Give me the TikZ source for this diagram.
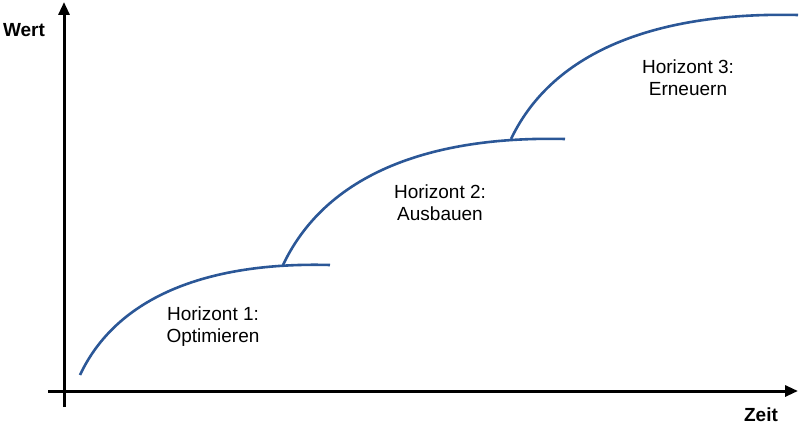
\documentclass[tikz,border=0pt]{standalone}
\usepackage{fontspec}
\setmainfont{Liberation Sans}
\usepackage{tikz}
\usetikzlibrary{arrows.meta}
\definecolor{wave}{HTML}{2B5797}

\begin{document}
\begin{tikzpicture}[x=1pt,y=-1pt,
    axis/.style={line width=3pt,-{Triangle[length=13pt,width=11pt]}},
    horizon/.style={wave,line width=2.6pt},
    label/.style={align=center,font=\fontsize{19}{22}\selectfont}]
        \useasboundingbox (0,0) rectangle (800,427);

        \path
        % axes
        (64,407) coordinate(O1)
        (64,2) coordinate(Ytip)
        (48,391) coordinate(O2)
        (798,391) coordinate(Xtip)
        (24,30) node[font=\bfseries\fontsize{19}{22}\selectfont](wert) {Wert}
        (761,415) node[font=\bfseries\fontsize{19}{22}\selectfont](zeit) {Zeit}

        % horizons
        (80,375) coordinate(h1start)
        (283,265) coordinate(h1join)
        (330,265) coordinate(h1end)
        (511,139) coordinate(h2join)
        (565,139) coordinate(h2end)
        (798,15) coordinate(h3end)

        (213,327) node[label](h1) {Horizont 1:\\Optimieren}
        (440,203) node[label](h2) {Horizont 2:\\Ausbauen}
        (688,78) node[label](h3) {Horizont 3:\\Erneuern}
        ;

        \draw[axis] (O1) -- (Ytip);
        \draw[axis] (O2) -- (Xtip);

        \draw[horizon] (h1start) .. controls (120,290) and (220,262) .. (h1end);
        \draw[horizon] (h1join) .. controls (329,168) and (441,136) .. (h2end);
        \draw[horizon] (h2join) .. controls (557,43) and (672,12) .. (h3end);
      \end{tikzpicture}
\end{document}
